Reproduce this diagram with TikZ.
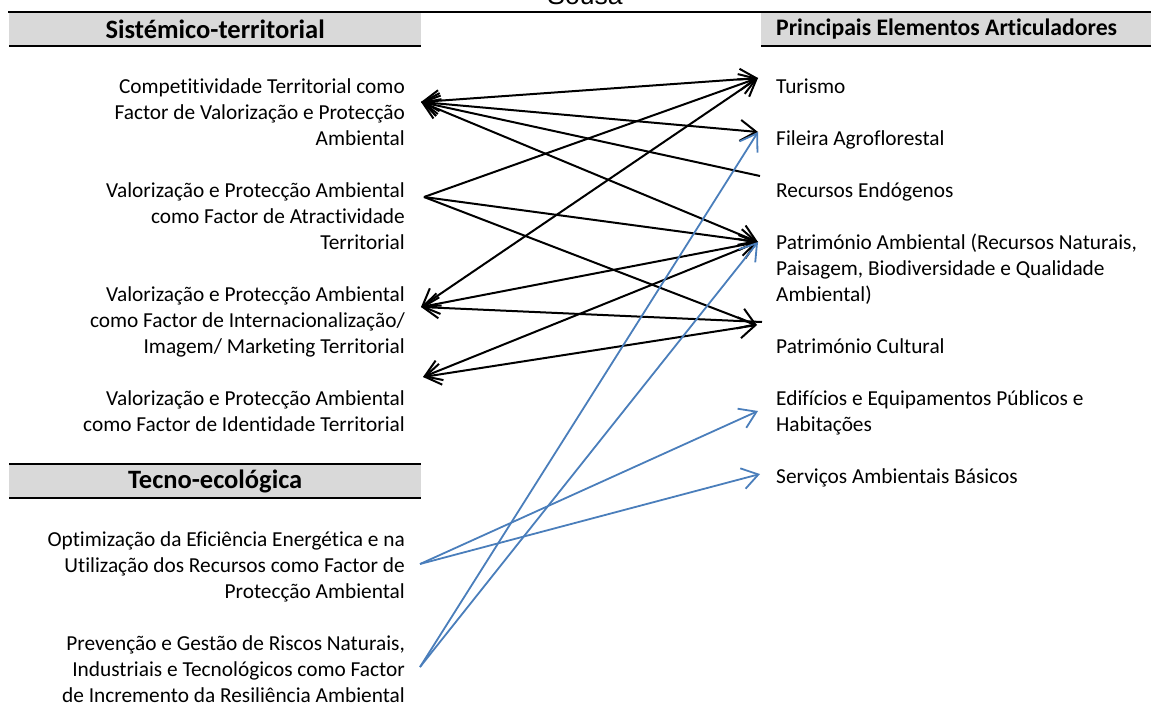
\documentclass[tikz,border=0pt]{standalone}
\usepackage{fontspec}
\setmainfont{Carlito}[Ligatures=NoCommon]
\newfontfamily\arialf{Liberation Sans}
\usetikzlibrary{arrows.meta}
\definecolor{hdrgray}{RGB}{217,217,217}
\definecolor{linkblue}{RGB}{74,126,187}
\tikzset{
  hdrbox/.style={fill=hdrgray, inner sep=0pt, anchor=north west, minimum height=33pt, font=\bfseries\fontsize{26.5}{30}\selectfont},
  rule/.style={line width=2pt},
  lefttxt/.style={anchor=base east, align=right, inner sep=0pt, font=\fontsize{21.33}{26}\selectfont},
  righttxt/.style={anchor=base west, align=left, inner sep=0pt, font=\fontsize{21.33}{26}\selectfont},
  blk/.style={line width=2pt, black, >={Straight Barb[length=16pt,width=21pt]}},
  blu/.style={line width=1.8pt, linkblue, >={Straight Barb[length=16pt,width=21pt]}},
}
\begin{document}
\begin{tikzpicture}[x=1pt,y=-1pt]
\useasboundingbox (0,0) rectangle (1151,707);
\clip (0,0) rectangle (1151,707);

% cut title
\node[anchor=base, inner sep=0pt, font=\arialf\fontsize{26.5}{30}\selectfont] (title) at (585,4) {Sousa};

% headers
\node[hdrbox, minimum width=412pt] (hs) at (9,13) {Sistémico-territorial};
\node[hdrbox, minimum width=390pt] (hp) at (761,13) {};
\node[anchor=west, inner sep=0pt, font=\bfseries\fontsize{23.7}{28}\selectfont] (hptxt) at (776,29.5) {Principais Elementos Articuladores};
\node[hdrbox, minimum width=412pt, minimum height=34pt] (ht) at (9,464) {Tecno-ecológica};
\draw[rule] (8,12) -- (1151,12);
\draw[rule] (hs.south west) -- (hs.south east);
\draw[rule] (hp.south west) -- (hp.south east);
\draw[rule] (ht.north west) -- (ht.north east);
\draw[rule] (ht.south west) -- (ht.south east);

% left texts (anchor = baseline of last line)
\node[lefttxt] (a1) at (405,145) {Competitividade Territorial como\\Factor de Valorização e Protecção\\Ambiental};
\node[lefttxt] (a2) at (405,249) {Valorização e Protecção Ambiental\\como Factor de Atractividade\\Territorial};
\node[lefttxt] (a3) at (405,353) {Valorização e Protecção Ambiental\\como Factor de Internacionalização/\\Imagem/ Marketing Territorial};
\node[lefttxt] (a4) at (405,431) {Valorização e Protecção Ambiental\\como Factor de Identidade Territorial};
\node[lefttxt] (b1) at (405,598) {Optimização da Eficiência Energética e na\\Utilização dos Recursos como Factor de\\Protecção Ambiental};
\node[lefttxt] (b2) at (405,702) {Prevenção e Gestão de Riscos Naturais,\\Industriais e Tecnológicos como Factor\\de Incremento da Resiliência Ambiental};

% right texts
\node[righttxt] (r1) at (776,93) {Turismo};
\node[righttxt] (r2) at (776,145) {Fileira Agroflorestal};
\node[righttxt] (r3) at (776,197) {Recursos Endógenos};
\node[righttxt] (r4) at (776,301) {Património Ambiental (Recursos Naturais,\\Paisagem, Biodiversidade e Qualidade\\Ambiental)};
\node[righttxt] (r5) at (776,353) {Património Cultural};
\node[righttxt] (r6) at (776,431) {Edifícios e Equipamentos Públicos e\\Habitações};
\node[righttxt] (r7) at (776,483) {Serviços Ambientais Básicos};

% connector ends
\coordinate (L1) at (421,102);
\coordinate (L2) at (424,197);
\coordinate (L3) at (421,307);
\coordinate (L4) at (423,377);
\coordinate (T1) at (420,564);
\coordinate (T2) at (420,667);
\coordinate (RTur) at (758,78);
\coordinate (RFil) at (758,132);
\coordinate (RRec) at (760,176);
\coordinate (RPat) at (758,242);
\coordinate (RCul) at (757,325);
\coordinate (RCulX) at (762,322);
\coordinate (REdi) at (758,411);
\coordinate (RSer) at (760,474);

% black links
\draw[blk,<->] (L1) -- (RTur);
\draw[blk,<->] (L1) -- (RFil);
\draw[blk,<-] (L1) -- (RRec);
\draw[blk,<->] (L1) -- (RPat);
\draw[blk,->] (L2) -- (RTur);
\draw[blk,->] (L2) -- (RPat);
\draw[blk,->] (L2) -- (RCul);
\draw[blk,<->] (L3) -- (RTur);
\draw[blk,<->] (L3) -- (RPat);
\draw[blk,<-] (L3) -- (RCulX);
\draw[blk,<->] (L4) -- (RPat);
\draw[blk,<->] (L4) -- (RCul);

% blue links
\draw[blu,->] (T1) -- (REdi);
\draw[blu,->] (T1) -- (RSer);
\draw[blu,->] (T2) -- (RFil);
\draw[blu,->] (T2) -- (RPat);
\end{tikzpicture}
\end{document}
